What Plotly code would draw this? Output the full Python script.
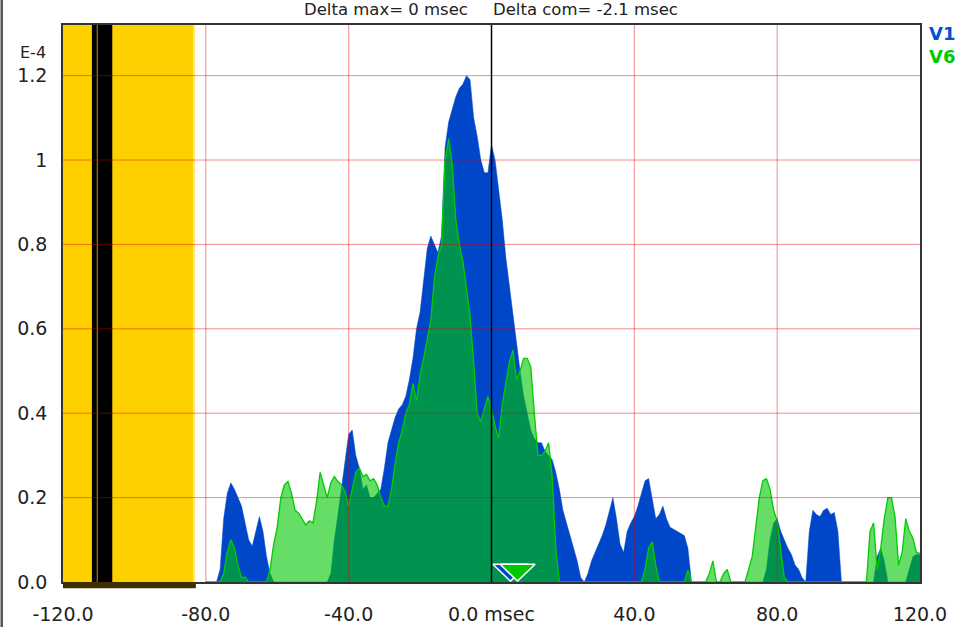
import plotly.graph_objects as go

# ---------------- data (values in units of 1E-4) ----------------
time_ms = list(range(-80, 121))

v1 = [
    0, 0, 0, 0, 0.03, 0.15, 0.21, 0.235, 0.22, 0.2,            # -80..-71
    0.18, 0.14, 0.1, 0.085, 0.12, 0.155, 0.12, 0.06, 0.02, 0,   # -70..-61
    0, 0, 0, 0, 0, 0, 0, 0, 0, 0,                               # -60..-51
    0, 0, 0, 0, 0, 0.02, 0.1, 0.16, 0.22, 0.28,                 # -50..-41
    0.35, 0.36, 0.3, 0.27, 0.22, 0.23, 0.2, 0.2, 0.21, 0.22,    # -40..-31
    0.27, 0.33, 0.36, 0.39, 0.41, 0.42, 0.44, 0.48, 0.53, 0.6,  # -30..-21
    0.64, 0.72, 0.79, 0.82, 0.8, 0.78, 0.82, 1.03, 1.09, 1.12,  # -20..-11
    1.15, 1.17, 1.18, 1.2, 1.19, 1.1, 1.056, 1.0, 0.97, 0.97,   # -10..-1
    1.036, 1.0, 0.93, 0.86, 0.77, 0.7, 0.63, 0.57, 0.5, 0.44,   # 0..9
    0.4, 0.36, 0.34, 0.33, 0.33, 0.31, 0.3, 0.29, 0.26, 0.22,   # 10..19
    0.17, 0.14, 0.11, 0.08, 0.05, 0.01, 0, 0.02, 0.05, 0.07,    # 20..29
    0.09, 0.11, 0.135, 0.17, 0.2, 0.15, 0.09, 0.07, 0.12, 0.14, # 30..39
    0.155, 0.18, 0.21, 0.24, 0.245, 0.2, 0.15, 0.16, 0.18, 0.15,# 40..49
    0.13, 0.125, 0.12, 0.115, 0.11, 0.08, 0, 0, 0, 0,           # 50..59
    0, 0, 0, 0, 0, 0, 0, 0, 0, 0,                               # 60..69
    0, 0, 0, 0, 0, 0, 0, 0.03, 0.1, 0.14,                       # 70..79
    0.15, 0.12, 0.1, 0.08, 0.065, 0.04, 0.03, 0.01, 0, 0.12,    # 80..89
    0.17, 0.16, 0.155, 0.17, 0.175, 0.16, 0.165, 0.12, 0, 0,    # 90..99
    0, 0, 0, 0, 0, 0, 0, 0, 0.06, 0.08,                         # 100..109
    0.05, 0, 0, 0, 0, 0, 0, 0.03, 0.06, 0.065,                  # 110..119
    0.065,                                                      # 120
]

v6 = [
    0, 0, 0, 0, 0, 0.02, 0.07, 0.1, 0.08, 0.04,                 # -80..-71
    0.01, 0.012, 0, 0, 0, 0, 0, 0, 0.03, 0.09,                  # -70..-61
    0.13, 0.2, 0.23, 0.238, 0.21, 0.17, 0.163, 0.15, 0.135, 0.145,  # -60..-51
    0.14, 0.19, 0.26, 0.23, 0.2, 0.235, 0.25, 0.238, 0.23, 0.214,   # -50..-41
    0.18, 0.22, 0.26, 0.27, 0.25, 0.255, 0.24, 0.245, 0.23, 0.2,    # -40..-31
    0.18, 0.18, 0.22, 0.28, 0.33, 0.36, 0.4, 0.42, 0.47, 0.43,      # -30..-21
    0.49, 0.53, 0.58, 0.62, 0.72, 0.77, 0.8, 1.0, 1.05, 0.99,       # -20..-11
    0.86, 0.8, 0.76, 0.69, 0.63, 0.52, 0.4, 0.38, 0.41, 0.44,       # -10..-1
    0.41, 0.37, 0.34, 0.42, 0.47, 0.52, 0.55, 0.48, 0.5, 0.53,      # 0..9
    0.53, 0.51, 0.4, 0.3, 0.3, 0.31, 0.33, 0.25, 0.08, 0,           # 10..19
    0, 0, 0, 0, 0, 0, 0, 0, 0, 0,                                   # 20..29
    0, 0, 0, 0, 0, 0, 0, 0, 0, 0,                                   # 30..39
    0, 0, 0, 0.03, 0.08, 0.095, 0.04, 0, 0, 0,                      # 40..49
    0, 0, 0, 0, 0, 0.028, 0, 0, 0, 0,                               # 50..59
    0, 0.02, 0.05, 0, 0, 0.02, 0.03, 0, 0, 0,                       # 60..69
    0, 0, 0.03, 0.06, 0.13, 0.2, 0.24, 0.245, 0.22, 0.17,           # 70..79
    0.145, 0.07, 0.01, 0, 0, 0, 0, 0, 0, 0,                         # 80..89
    0, 0, 0, 0, 0, 0, 0, 0, 0, 0,                                   # 90..99
    0, 0, 0, 0, 0, 0, 0.12, 0.14, 0.03, 0.08,                       # 100..109
    0.15, 0.2, 0.2, 0.155, 0.04, 0.07, 0.15, 0.12, 0.105, 0.07,     # 110..119
    0.068,                                                          # 120
]

x_tickvals = [-120, -80, -40, 0, 40, 80, 120]
x_ticktext = ["-120.0", "-80.0", "-40.0", "0.0 msec", "40.0", "80.0", "120.0"]
y_tickvals = [0, 0.2, 0.4, 0.6, 0.8, 1.0, 1.2]
y_ticktext = ["0.0", "0.2", "0.4", "0.6", "0.8", "1", "1.2"]

marker_x = [5.3, 7.3]            # marker triangles (V1, V6)
title_left = "Delta max= 0 msec"
title_right = "Delta com= -2.1 msec"

# ---------------- styling ----------------
FONT = "DejaVu Sans"
BLUE = "rgb(0,70,200)"
GREEN_LINE = "rgb(0,204,0)"
GREEN_FILL = "rgba(0,198,0,0.6)"
GRID = "rgba(220,0,0,0.45)"
X_MIN, X_MAX, Y_MAX = -120, 120, 1.32

fig = go.Figure()

fig.add_trace(go.Scatter(x=time_ms, y=v1, mode="lines", fill="tozeroy",
                         line=dict(color=BLUE, width=0.5), fillcolor=BLUE,
                         hoverinfo="skip", showlegend=False))
fig.add_trace(go.Scatter(x=time_ms, y=v6, mode="lines", fill="tozeroy",
                         line=dict(color=GREEN_LINE, width=1.3), fillcolor=GREEN_FILL,
                         hoverinfo="skip", showlegend=False))

# triangle markers built from their centre values
tri_half, tri_h = 4.9, 0.042
for xc, col in zip(marker_x, [BLUE, "rgb(0,200,0)"]):
    fig.add_trace(go.Scatter(
        x=[xc - tri_half, xc + tri_half, xc, xc - tri_half],
        y=[tri_h, tri_h, 0.002, tri_h],
        mode="lines", fill="toself", fillcolor=col,
        line=dict(color="white", width=1.5), hoverinfo="skip", showlegend=False))

shapes = []
# yellow excluded region
shapes.append(dict(type="rect", xref="x", yref="paper", x0=X_MIN, x1=-83.6, y0=0, y1=1,
                   fillcolor="#ffd000", line=dict(width=0), layer="below"))
shapes.append(dict(type="rect", xref="x", yref="paper", x0=-83.6, x1=-83.0, y0=0, y1=1,
                   fillcolor="#ffe680", line=dict(width=0), layer="below"))
# black bars
shapes.append(dict(type="rect", xref="x", yref="paper", x0=-111.9, x1=-106.2, y0=0, y1=1,
                   fillcolor="black", line=dict(width=0), layer="below"))
shapes.append(dict(type="line", xref="x", yref="paper", x0=-110.4, x1=-110.4, y0=0, y1=1,
                   line=dict(color="#a07800", width=1.2), layer="below"))
# grid lines drawn above the data
for v in x_tickvals[1:-1]:
    if v == 0:
        continue
    shapes.append(dict(type="line", xref="x", yref="paper", x0=v, x1=v, y0=0, y1=1,
                       line=dict(color=GRID, width=1), layer="above"))
for v in y_tickvals[1:]:
    shapes.append(dict(type="line", xref="paper", yref="y", x0=0, x1=1, y0=v, y1=v,
                       line=dict(color=GRID, width=1), layer="above"))
# zero-time line
shapes.append(dict(type="line", xref="x", yref="paper", x0=0, x1=0, y0=0, y1=1,
                   line=dict(color="black", width=1.5), layer="above"))
# dark bar under excluded region
shapes.append(dict(type="rect", xref="x", yref="paper", x0=X_MIN, x1=-82.8, y0=-0.011, y1=0,
                   fillcolor="#3d2d00", line=dict(width=0), layer="above"))
# panel left border
shapes.append(dict(type="line", xref="paper", yref="paper", x0=-0.0715, x1=-0.0715,
                   y0=-0.09, y1=1.06, line=dict(color="#555555", width=2.5)))

annotations = [
    dict(text=title_left, xref="paper", yref="paper", x=0.4749, y=1.0287,
         xanchor="right", yanchor="middle", showarrow=False,
         font=dict(family=FONT, size=16.5, color="#222")),
    dict(text=title_right, xref="paper", yref="paper", x=0.4994, y=1.0287,
         xanchor="left", yanchor="middle", showarrow=False,
         font=dict(family=FONT, size=16.5, color="#222")),
    dict(text="E-4", xref="paper", yref="paper", x=-0.035, y=0.9515,
         xanchor="center", yanchor="middle", showarrow=False,
         font=dict(family=FONT, size=16, color="#222")),
    dict(text="<b>V1</b>", xref="paper", yref="paper", x=1.0085, y=0.9856,
         xanchor="left", yanchor="middle", showarrow=False,
         font=dict(family=FONT, size=18, color="rgb(0,80,210)")),
    dict(text="<b>V6</b>", xref="paper", yref="paper", x=1.0085, y=0.9443,
         xanchor="left", yanchor="middle", showarrow=False,
         font=dict(family=FONT, size=18, color="rgb(0,200,0)")),
]

fig.update_layout(
    width=971, height=627,
    margin=dict(l=63, r=51, t=25, b=45, autoexpand=False),
    paper_bgcolor="white", plot_bgcolor="white",
    shapes=shapes, annotations=annotations,
    font=dict(family=FONT, color="#222"),
    xaxis=dict(range=[X_MIN, X_MAX], tickvals=x_tickvals, ticktext=x_ticktext,
               showgrid=False, zeroline=False, showline=True, mirror=True,
               linecolor="#333", linewidth=1.5, ticks="", ticklabelstandoff=14,
               automargin=False,
               tickfont=dict(family=FONT, size=19, color="#222"), layer="above traces"),
    yaxis=dict(range=[0, Y_MAX], tickvals=y_tickvals, ticktext=y_ticktext,
               showgrid=False, zeroline=False, showline=True, mirror=True,
               linecolor="#333", linewidth=1.5, ticks="", ticklabelstandoff=10,
               automargin=False,
               tickfont=dict(family=FONT, size=19, color="#222"), layer="above traces"),
)

fig.write_html("out.html", config={"displayModeBar": False},
               post_script="document.body.style.margin='0px';document.body.style.overflow='hidden';")
